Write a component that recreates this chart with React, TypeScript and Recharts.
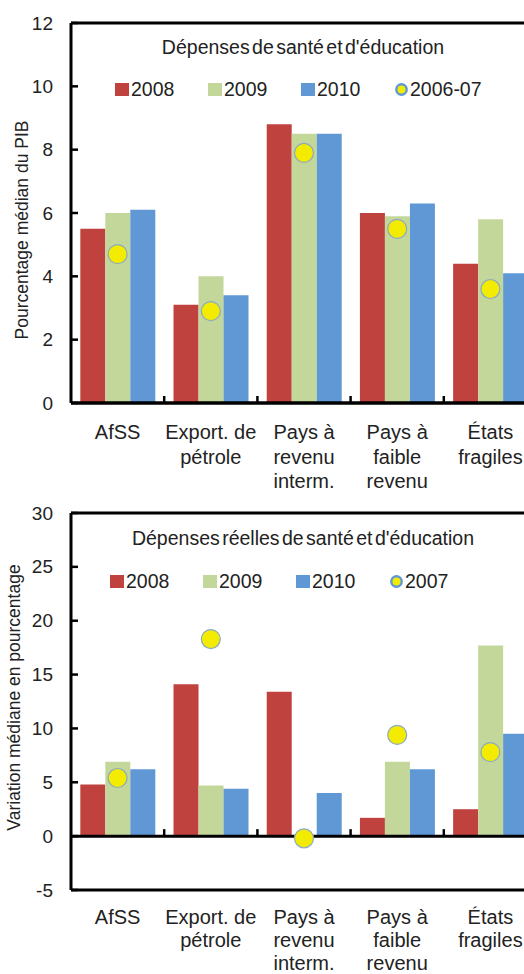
import { ComposedChart, Bar, Scatter, XAxis, YAxis, Legend, ReferenceLine, Label } from "recharts";

// Categories shared by both panels
const CATEGORIES = [
  "AfSS",
  "Export. de\npétrole",
  "Pays à\nrevenu\ninterm.",
  "Pays à\nfaible\nrevenu",
  "États\nfragiles",
];

// Top panel: % of GDP
const SHARE_2008 = [5.5, 3.1, 8.8, 6.0, 4.4];
const SHARE_2009 = [6.0, 4.0, 8.5, 5.9, 5.8];
const SHARE_2010 = [6.1, 3.4, 8.5, 6.3, 4.1];
const SHARE_2006_07 = [4.7, 2.9, 7.9, 5.5, 3.6];
const SHARE_TICKS = [0, 2, 4, 6, 8, 10, 12];

// Bottom panel: real change in %
const REAL_2008 = [4.8, 14.1, 13.4, 1.7, 2.5];
const REAL_2009 = [6.9, 4.7, null, 6.9, 17.7];
const REAL_2010 = [6.2, 4.4, 4.0, 6.2, 9.5];
const REAL_2007 = [5.4, 18.3, -0.2, 9.4, 7.8];
const REAL_TICKS = [-5, 0, 5, 10, 15, 20, 25, 30];

const RED = "#c0423f";
const GREEN = "#c4d79b";
const BLUE = "#5f98d5";
const FONT = "'Liberation Sans', Arial, sans-serif";
const NARROW = "'Liberation Sans Narrow', 'Arial Narrow', 'Liberation Sans', sans-serif";

const shareData = CATEGORIES.map((name, i) => ({
  name,
  a: SHARE_2008[i],
  b: SHARE_2009[i],
  c: SHARE_2010[i],
  dot: SHARE_2006_07[i],
}));

const realData = CATEGORIES.map((name, i) => ({
  name,
  a: REAL_2008[i],
  b: REAL_2009[i],
  c: REAL_2010[i],
  dot: REAL_2007[i],
}));

function YTick({ x, y, payload }: any) {
  return (
    <g>
      <line x1={x + 18} x2={x + 25} y1={y} y2={y} stroke="#000" strokeWidth={2.5} />
      <text x={x} y={y} dy={6.5} textAnchor="end" fontSize={19} fill="#222">
        {payload.value}
      </text>
    </g>
  );
}

function makeXTick(firstDy: number, lineGap: number) {
  return ({ x, y, payload }: any) => {
    const lines = String(payload.value).split("\n");
    return (
      <text x={x} y={y} textAnchor="middle" fontSize={20} fontFamily={NARROW} fill="#222">
        {lines.map((l, i) => (
          <tspan key={i} x={x} dy={i === 0 ? firstDy : lineGap}>
            {l}
          </tspan>
        ))}
      </text>
    );
  };
}

// zero line with small upward ticks at the category boundaries
function ZeroLine(props: any) {
  const { x1, x2, y1 } = props;
  const step = (x2 - x1) / CATEGORIES.length;
  return (
    <g>
      <line x1={x1} x2={x2} y1={y1} y2={y1} stroke="#000" strokeWidth={3} />
      {CATEGORIES.slice(1).map((_, i) => (
        <line
          key={i}
          x1={x1 + step * (i + 1)}
          x2={x1 + step * (i + 1)}
          y1={y1}
          y2={y1 - 7}
          stroke="#000"
          strokeWidth={2.5}
        />
      ))}
    </g>
  );
}

function Dot(props: any) {
  if (props.cx == null || props.cy == null) return null;
  return <circle cx={props.cx} cy={props.cy} r={9.5} fill="#f3ec00" stroke="#8aa9c4" strokeWidth={1.2} />;
}

function LegendRow({ payload }: any) {
  const items = [...(payload || [])].sort(
    (a: any, b: any) => (a.type === "circle" ? 1 : 0) - (b.type === "circle" ? 1 : 0)
  );
  return (
    <div style={{ display: "flex", fontSize: 19.5, color: "#222", fontFamily: NARROW }}>
      {items.map((p: any) => (
        <div key={p.value} style={{ width: 93, display: "flex", alignItems: "center" }}>
          {p.type === "circle" ? (
            <svg width={15} height={15} style={{ marginRight: 1 }}>
              <circle cx={7.5} cy={7.5} r={5.2} fill="#f3ec00" stroke="#5f98d5" strokeWidth={2.4} />
            </svg>
          ) : (
            <span style={{ display: "inline-block", width: 14, height: 13, background: p.color, marginRight: 2 }} />
          )}
          <span>{p.value}</span>
        </div>
      ))}
    </div>
  );
}

function yLabel(text: string, dx: number, dy: number) {
  return ({ viewBox }: any) => {
    const cx = viewBox.x + viewBox.width + dx;
    const cy = viewBox.y + viewBox.height / 2 + dy;
    return (
      <text
        x={cx}
        y={cy}
        transform={`rotate(-90, ${cx}, ${cy})`}
        textAnchor="middle"
        dominantBaseline="central"
        fontSize={17.5}
        fill="#222"
      >
        {text}
      </text>
    );
  };
}

interface PanelProps {
  top: number;
  height: number;
  data: any[];
  ticks: number[];
  title: string;
  titleY: number;
  dotName: string;
  yText: string;
  yDx: number;
  yDy: number;
  marginTop: number;
  xHeight: number;
  xDy: number;
  xGap: number;
  legendTop: number;
  legendLeft: number;
}

function Panel(p: PanelProps) {
  const lo = p.ticks[0];
  const hi = p.ticks[p.ticks.length - 1];
  return (
    <div style={{ position: "absolute", left: 0, top: p.top, width: 545, height: p.height }}>
      <ComposedChart
        width={545}
        height={p.height}
        data={p.data}
        margin={{ top: p.marginTop, right: 8, left: 11, bottom: 0 }}
        barCategoryGap="10%"
        barGap={0}
      >
        <XAxis
          dataKey="name"
          height={p.xHeight}
          axisLine={{ stroke: "#000", strokeWidth: 3 }}
          tickLine={false}
          tickSize={0}
          tickMargin={0}
          interval={0}
          tick={makeXTick(p.xDy, p.xGap)}
        />
        <YAxis
          domain={[lo, hi]}
          ticks={p.ticks}
          width={60}
          axisLine={{ stroke: "#000", strokeWidth: 3 }}
          tickLine={false}
          tickSize={0}
          tickMargin={18}
          tick={<YTick />}
          allowDataOverflow
        >
          <Label content={yLabel(p.yText, p.yDx, p.yDy)} />
        </YAxis>
        <ReferenceLine y={hi} stroke="#000" strokeWidth={3} />
        <Legend
          layout="horizontal"
          verticalAlign="middle"
          align="center"
          content={<LegendRow />}
          wrapperStyle={{ position: "absolute", top: p.legendTop, left: p.legendLeft, width: 420 }}
        />
        <Bar dataKey="a" name="2008" fill={RED} legendType="square" isAnimationActive={false} />
        <Bar dataKey="b" name="2009" fill={GREEN} legendType="square" isAnimationActive={false} />
        <Bar dataKey="c" name="2010" fill={BLUE} legendType="square" isAnimationActive={false} />
        <ReferenceLine y={0} shape={<ZeroLine />} />
        <Scatter dataKey="dot" name={p.dotName} legendType="circle" shape={<Dot />} isAnimationActive={false} />
      </ComposedChart>
      <div
        style={{
          position: "absolute",
          left: 303,
          top: p.titleY,
          transform: "translate(-50%, -50%)",
          whiteSpace: "nowrap",
          fontSize: 19.5,
          wordSpacing: -3,
          color: "#222",
        }}
      >
        {p.title}
      </div>
    </div>
  );
}

export default function App() {
  return (
    <div
      style={{
        position: "absolute",
        left: 0,
        top: 0,
        width: 524,
        height: 974,
        overflow: "hidden",
        background: "#fff",
        fontFamily: FONT,
      }}
    >
      <Panel
        top={0}
        height={500}
        data={shareData}
        ticks={SHARE_TICKS}
        title="Dépenses de santé et d'éducation"
        titleY={47}
        dotName="2006-07"
        yText="Pourcentage médian du PIB"
        yDx={-49}
        yDy={17}
        marginTop={23}
        xHeight={97}
        xDy={36}
        xGap={24.5}
        legendTop={78}
        legendLeft={115}
      />
      <Panel
        top={500}
        height={474}
        data={realData}
        ticks={REAL_TICKS}
        title="Dépenses réelles de santé et d'éducation"
        titleY={38}
        dotName="2007"
        yText="Variation médiane en pourcentage"
        yDx={-57}
        yDy={-4}
        marginTop={13}
        xHeight={84}
        xDy={34}
        xGap={23}
        legendTop={70}
        legendLeft={110}
      />
    </div>
  );
}
